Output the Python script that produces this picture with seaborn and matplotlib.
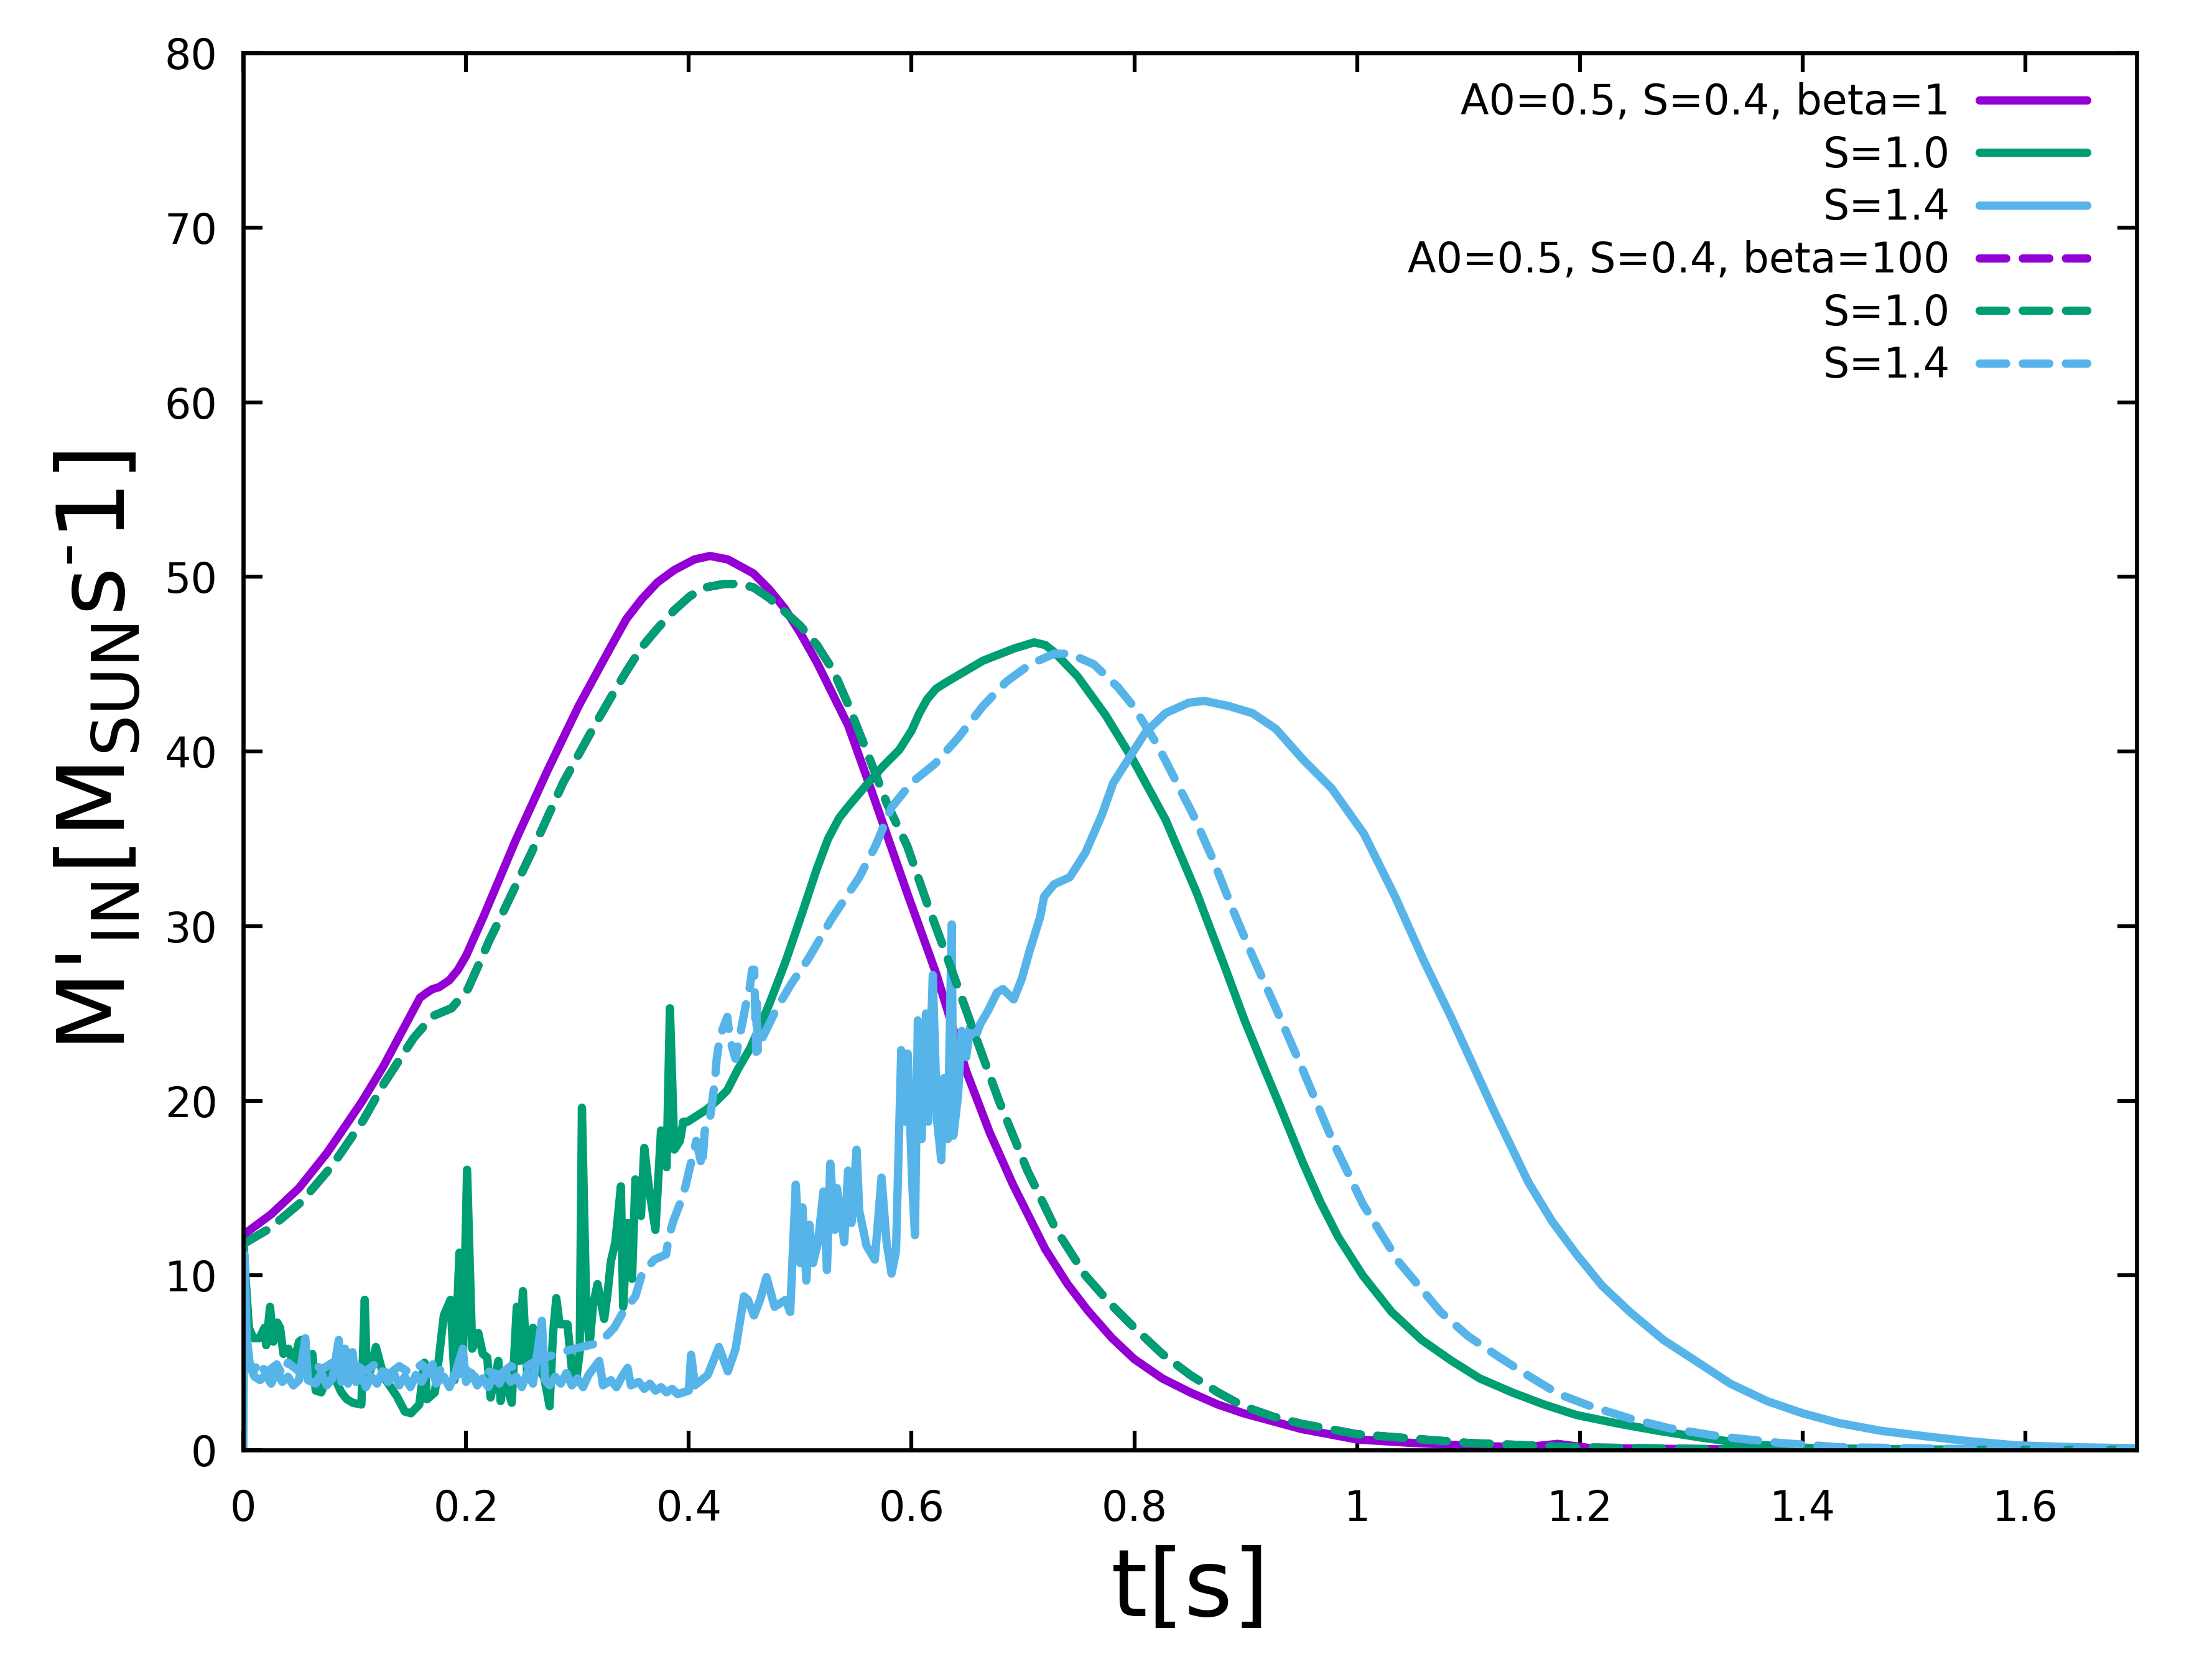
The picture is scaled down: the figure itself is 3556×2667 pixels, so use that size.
import matplotlib
matplotlib.use("Agg")
import matplotlib.pyplot as plt
import seaborn as sns
import pandas as pd
from matplotlib.ticker import FuncFormatter, MultipleLocator

# A0=0.5, S=0.4, beta=1  (purple, solid)
t_s04_b1 = [0, 0.0017, 0.025, 0.05, 0.075, 0.09, 0.107, 0.126, 0.141, 0.1586, 0.165, 0.17,
            0.1756, 0.185, 0.1927, 0.2, 0.216, 0.2444, 0.273, 0.301, 0.33, 0.344, 0.358,
            0.372, 0.387, 0.405, 0.419, 0.435, 0.458, 0.472, 0.486, 0.5, 0.515, 0.529,
            0.543, 0.561, 0.578, 0.596, 0.622, 0.649, 0.67, 0.691, 0.72, 0.74, 0.758, 0.78,
            0.8, 0.825, 0.85, 0.875, 0.898, 0.95, 1.0, 1.05, 1.1, 1.15, 1.18, 1.21, 1.3,
            1.4, 1.7]
m_s04_b1 = [12.5, 12.4, 13.5, 15.0, 17.0, 18.4, 20.0, 22.0, 23.8, 25.9, 26.2, 26.4,
            26.5, 26.9, 27.5, 28.3, 30.6, 34.9, 38.9, 42.6, 46.0, 47.6, 48.75,
            49.7, 50.4, 51.0, 51.2, 51.0, 50.2, 49.3, 48.2, 46.8, 45.1, 43.3,
            41.5, 38.3, 35.2, 31.9, 27.3, 21.7, 18.2, 15.2, 11.5, 9.5, 8.0, 6.4,
            5.2, 4.1, 3.3, 2.6, 2.1, 1.2, 0.6, 0.4, 0.25, 0.15, 0.35, 0.1, 0.05,
            0.0, 0.0]

# S=1.0, beta=1  (green, solid)
t_s10_b1 = [0, 0.002, 0.005, 0.009, 0.0145, 0.019, 0.0205, 0.024, 0.027, 0.0305, 0.033,
            0.036, 0.0405, 0.045, 0.050, 0.052, 0.0555, 0.062, 0.065, 0.070, 0.078, 0.083,
            0.088, 0.093, 0.0985, 0.106, 0.109, 0.111, 0.115, 0.119, 0.124, 0.128, 0.1376,
            0.145, 0.1505, 0.158, 0.1627, 0.165, 0.172, 0.180, 0.186, 0.1896, 0.194, 0.197,
            0.2009, 0.2055, 0.211, 0.215, 0.219, 0.222, 0.229, 0.231, 0.234, 0.241, 0.2455,
            0.248, 0.251, 0.2549, 0.260, 0.265, 0.270, 0.275, 0.278, 0.281, 0.284, 0.291,
            0.295, 0.299, 0.302, 0.304, 0.308, 0.311, 0.314, 0.318, 0.324, 0.327, 0.330,
            0.334, 0.339, 0.341, 0.345, 0.349, 0.352, 0.357, 0.360, 0.364, 0.370, 0.375,
            0.380, 0.383, 0.387, 0.392, 0.395, 0.399, 0.416, 0.425, 0.4345, 0.444, 0.455,
            0.462, 0.472, 0.487, 0.502, 0.515, 0.525, 0.535, 0.545, 0.561, 0.575, 0.589,
            0.600, 0.607, 0.614, 0.622, 0.632, 0.648, 0.664, 0.692, 0.710, 0.720, 0.728,
            0.749, 0.774, 0.799, 0.828, 0.856, 0.881, 0.899, 0.915, 0.930, 0.951, 0.967,
            0.983, 1.005, 1.031, 1.058, 1.085, 1.11, 1.139, 1.168, 1.197, 1.235, 1.272,
            1.31, 1.352, 1.41, 1.5, 1.7]
m_s10_b1 = [12.0, 9.9, 7.0, 6.4, 6.4, 7.0, 6.0, 8.2, 6.2, 7.3, 7.0,
            5.5, 5.8, 4.9, 6.2, 6.3, 4.7, 5.5, 3.4, 3.3, 4.7, 4.0,
            3.3, 2.9, 2.7, 2.6, 8.6, 4.1, 4.7, 5.9, 4.7, 4.0, 3.1,
            2.2, 2.1, 2.6, 5.0, 2.9, 3.3, 7.7, 8.6, 4.0, 11.3, 4.7,
            16.05, 5.8, 6.7, 5.5, 5.3, 3.0, 5.1, 2.8, 4.2, 2.7, 8.2,
            5.1, 9.1, 4.25, 7.0, 4.6, 4.2, 2.5, 6.6, 8.7, 7.2, 7.2,
            4.6, 4.1, 5.6, 19.6, 7.9, 6.1, 8.3, 9.5, 7.5, 8.95, 10.8,
            11.9, 15.1, 8.2, 13.0, 9.8, 15.5, 13.4, 17.3, 15.1, 12.6, 18.3,
            16.2, 25.3, 17.2, 17.7, 18.8, 18.8, 19.5, 20.0, 20.6, 21.8, 23.0,
            24.0, 25.5, 28.0, 30.8, 33.3, 35.0, 36.2, 37.0, 38.2, 39.2, 40.1,
            41.2, 42.2, 43.0, 43.6, 44.0, 44.6, 45.2, 45.9, 46.25, 46.1, 45.7,
            44.3, 42.1, 39.5, 36.1, 31.9, 27.7, 24.6, 22.1, 19.8, 16.5, 14.2,
            12.2, 10.0, 7.9, 6.3, 5.1, 4.1, 3.3, 2.6, 2.0, 1.5, 1.08,
            0.7, 0.33, 0.1, 0.03, 0.0]

# S=1.4, beta=1  (light blue, solid)
t_s14_b1 = [0, 0.001, 0.003, 0.006, 0.01, 0.015, 0.02, 0.025, 0.03, 0.035, 0.04, 0.045,
            0.05, 0.0557, 0.058, 0.065, 0.07, 0.075, 0.08, 0.0857, 0.088, 0.0913, 0.094,
            0.098, 0.101, 0.106, 0.11, 0.115, 0.12, 0.125, 0.13, 0.135, 0.14, 0.145, 0.15,
            0.155, 0.16, 0.165, 0.17, 0.173, 0.18, 0.185, 0.19, 0.197, 0.2, 0.205, 0.21,
            0.215, 0.22, 0.225, 0.23, 0.235, 0.24, 0.245, 0.25, 0.255, 0.26, 0.268, 0.271,
            0.275, 0.28, 0.285, 0.29, 0.295, 0.3, 0.305, 0.31, 0.3195, 0.323, 0.33, 0.335,
            0.34, 0.345, 0.348, 0.355, 0.36, 0.365, 0.37, 0.375, 0.38, 0.385, 0.39, 0.395,
            0.40, 0.402, 0.4055, 0.417, 0.427, 0.435, 0.442, 0.4495, 0.453, 0.4585, 0.464,
            0.4697, 0.477, 0.487, 0.491, 0.496, 0.500, 0.502, 0.5055, 0.5083, 0.5115, 0.516,
            0.5208, 0.524, 0.527, 0.531, 0.533, 0.5395, 0.543, 0.546, 0.5506, 0.553, 0.5595,
            0.567, 0.573, 0.5775, 0.582, 0.586, 0.5907, 0.5945, 0.5965, 0.6006, 0.603,
            0.6056, 0.609, 0.613, 0.615, 0.619, 0.623, 0.6266, 0.629, 0.6325, 0.636, 0.6375,
            0.6417, 0.645, 0.649, 0.6525, 0.657, 0.6617, 0.669, 0.6767, 0.682, 0.6916, 0.699,
            0.706, 0.7153, 0.719, 0.728, 0.742, 0.756, 0.771, 0.781, 0.792, 0.81, 0.828,
            0.849, 0.863, 0.885, 0.906, 0.927, 0.952, 0.977, 1.006, 1.034, 1.06, 1.085,
            1.123, 1.154, 1.175, 1.197, 1.22, 1.245, 1.275, 1.304, 1.335, 1.368, 1.4, 1.432,
            1.47, 1.512, 1.55, 1.593, 1.65, 1.7]
m_s14_b1 = [0.0, 11.2, 6.5, 4.8, 4.2, 4.0, 4.3, 3.8, 4.5, 3.9, 4.2, 3.7,
            4.0, 6.4, 4.0, 3.8, 4.4, 3.7, 4.1, 6.3, 3.9, 5.8, 3.8,
            5.6, 3.9, 4.3, 3.6, 4.2, 3.8, 4.5, 3.9, 4.4, 3.7, 4.2, 3.6,
            4.3, 3.9, 4.5, 4.9, 3.8, 4.2, 3.6, 4.3, 5.8, 3.9, 4.4, 3.7,
            4.1, 3.6, 4.3, 3.8, 4.5, 3.9, 4.2, 3.6, 4.4, 3.8, 7.4, 4.0,
            3.7, 4.2, 3.8, 4.4, 3.7, 4.1, 3.6, 4.3, 5.1, 3.7, 4.0, 3.6,
            4.2, 4.7, 3.7, 3.9, 3.5, 3.8, 3.4, 3.6, 3.3, 3.5, 3.2, 3.3,
            3.4, 5.45, 3.7, 4.3, 5.9, 4.5, 5.8, 8.8, 8.6, 7.7, 8.6,
            9.9, 8.2, 8.6, 7.9, 15.2, 10.7, 13.9, 9.7, 12.9, 10.7, 11.9,
            14.8, 10.3, 16.4, 12.6, 15.0, 11.9, 16.0, 13.0, 17.2, 13.7, 11.7,
            10.9, 15.6, 11.9, 10.1, 11.4, 22.9, 18.8, 22.7, 15.2, 12.3,
            24.6, 17.8, 25.0, 18.8, 27.2, 18.8, 16.6, 21.3, 17.8, 30.1, 18.0,
            20.3, 24.0, 22.5, 24.2, 23.6, 24.4, 25.2, 26.2, 26.4, 25.8, 27.0,
            28.6, 30.5, 31.7, 32.4, 32.8, 34.2, 36.4, 38.2, 39.3, 41.1, 42.2,
            42.8, 42.9, 42.6, 42.2, 41.3, 39.5, 37.9, 35.3, 31.7, 28.0, 24.7,
            19.4, 15.3, 13.1, 11.2, 9.4, 7.9, 6.3, 5.1, 3.8, 2.8, 2.1, 1.55,
            1.1, 0.77, 0.5, 0.26, 0.15, 0.1]

# S=1.0, beta=100  (green, dashed)
t_s10_b100 = [0, 0.024, 0.052, 0.080, 0.1078, 0.1264, 0.153, 0.170, 0.187, 0.2016, 0.21,
              0.221, 0.2302, 0.2586, 0.287, 0.3155, 0.33, 0.344, 0.358, 0.3725, 0.387,
              0.401, 0.415, 0.432, 0.445, 0.458, 0.472, 0.4864, 0.5, 0.515, 0.53, 0.543,
              0.561, 0.578, 0.596, 0.614, 0.632, 0.659, 0.679, 0.704, 0.729, 0.756, 0.778,
              0.8, 0.825, 0.85, 0.875, 0.898, 0.925, 0.95, 1.0, 1.1, 1.2, 1.3, 1.4, 1.7]
m_s10_b100 = [11.8, 12.7, 14.2, 16.3, 18.9, 21.0, 23.6, 24.85, 25.3, 26.4, 27.6,
              29.2, 30.4, 34.2, 38.2, 41.5, 43.1, 44.6, 46.0, 47.1, 48.1,
              48.9, 49.4, 49.6, 49.6, 49.4, 48.8, 48.0, 47.2, 46.1, 44.6, 42.7,
              39.8, 37.0, 34.6, 31.3, 28.2, 23.4, 19.9, 16.0, 12.7, 10.0, 8.4,
              7.0, 5.5, 4.3, 3.3, 2.5, 1.9, 1.5, 0.9, 0.4, 0.15, 0.06, 0.02, 0.0]

# A0=0.5, S=0.4, beta=100  (purple, dashed) - lies underneath the green dashed curve
t_s04_b100 = t_s10_b100
m_s04_b100 = m_s10_b100

# S=1.4, beta=100  (light blue, dashed)
t_s14_b100 = [0, 0.005, 0.01, 0.015, 0.02, 0.03, 0.035, 0.04, 0.05, 0.06, 0.07, 0.08,
              0.09, 0.1, 0.11, 0.12, 0.13, 0.14, 0.15, 0.16, 0.17, 0.18, 0.19, 0.2, 0.21,
              0.22, 0.23, 0.24, 0.25, 0.26, 0.267, 0.2855, 0.304, 0.317, 0.324, 0.333, 0.341,
              0.352, 0.358, 0.369, 0.3796, 0.382, 0.386, 0.392, 0.397, 0.401, 0.4047, 0.4066,
              0.412, 0.4143, 0.418, 0.4233, 0.425, 0.428, 0.4345, 0.437, 0.4419, 0.446,
              0.4512, 0.455, 0.4568, 0.4587, 0.4605, 0.461, 0.462, 0.466, 0.479, 0.492,
              0.507, 0.528, 0.553, 0.5676, 0.582, 0.5997, 0.621, 0.642, 0.664, 0.685,
              0.7065, 0.728, 0.742, 0.7635, 0.785, 0.799, 0.8205, 0.835, 0.8526, 0.870,
              0.888, 0.906, 0.925, 0.951, 0.978, 1.005, 1.037, 1.075, 1.1, 1.128, 1.155,
              1.181, 1.21, 1.245, 1.28, 1.326, 1.38, 1.432, 1.55, 1.7]
m_s14_b100 = [5.8, 5.0, 4.6, 5.1, 4.4, 4.9, 4.3, 5.0, 4.5, 5.2, 4.6, 5.0,
              4.4, 4.9, 4.5, 5.0, 4.3, 4.8, 4.4, 4.9, 4.3, 4.7, 4.2, 4.6, 4.1,
              4.5, 4.3, 4.8, 4.6, 5.0, 5.2, 5.6, 5.9, 6.1, 6.4, 7.0, 7.9,
              8.8, 10.1, 10.9, 11.2, 12.2, 13.1, 14.1, 15.1, 16.2, 17.1, 17.7,
              16.2, 18.3, 18.5, 21.1, 22.4, 23.7, 24.8, 23.5, 22.4, 23.8,
              25.5, 26.6, 27.5, 27.5, 22.8, 25.6, 22.8, 23.6, 25.3, 26.7,
              28.1, 30.4, 32.8, 34.6, 36.8, 38.2, 39.3, 40.8, 42.6, 44.0,
              45.0, 45.6, 45.6, 45.0, 43.7, 42.6, 40.4, 38.6, 36.4, 33.9,
              31.0, 28.3, 25.6, 21.8, 17.7, 14.1, 10.8, 7.9, 6.5, 5.3, 4.2,
              3.2, 2.5, 1.8, 1.25, 0.77, 0.4, 0.16, 0.05, 0.02]

series = [
    (t_s04_b1, m_s04_b1, "#9400d3", "A0=0.5, S=0.4, beta=1", False),
    (t_s10_b1, m_s10_b1, "#009e73", "S=1.0", False),
    (t_s14_b1, m_s14_b1, "#56b4e9", "S=1.4", False),
    (t_s04_b100, m_s04_b100, "#9400d3", "A0=0.5, S=0.4, beta=100", True),
    (t_s10_b100, m_s10_b100, "#009e73", "S=1.0", True),
    (t_s14_b100, m_s14_b100, "#56b4e9", "S=1.4", True),
]

sns.set_style("white")
plt.rcParams["font.family"] = ["DejaVu Sans"]
plt.rcParams["mathtext.default"] = "regular"
for key in ["text.color", "axes.labelcolor", "xtick.color", "ytick.color"]:
    plt.rcParams[key] = "black"

LW = 3.2
FS = 16

fig = plt.figure(figsize=(3556 / 300, 2667 / 300), dpi=300)
ax = fig.add_axes([0.110, 0.126, 0.856, 0.842])

for t, m, color, label, dashed in series:
    df = pd.DataFrame({"t": t, "m": m})
    if dashed:
        style = dict(linestyle=(0, (3.2, 2.0)), dash_capstyle="round", dash_joinstyle="round")
    else:
        style = dict(solid_capstyle="round", solid_joinstyle="round")
    sns.lineplot(data=df, x="t", y="m", ax=ax, color=color, linewidth=LW, label=label,
                 estimator=None, sort=False, **style)

ax.set_xlim(0, 1.7)
ax.set_ylim(0, 80)
ax.xaxis.set_major_locator(MultipleLocator(0.2))
ax.yaxis.set_major_locator(MultipleLocator(10))
ax.xaxis.set_major_formatter(FuncFormatter(lambda v, p: f"{v:g}"))

ax.tick_params(direction="in", length=7.5, width=1.5, labelsize=FS,
               top=True, right=True, bottom=True, left=True)
ax.tick_params(axis="x", pad=15)
ax.tick_params(axis="y", pad=10)
for sp in ax.spines.values():
    sp.set_linewidth(1.6)
    sp.set_color("black")

ax.set_xlabel("t[s]", fontsize=36, labelpad=6)
ax.set_ylabel(r"M'$_{IN}$[M$_{SUN}$s$^{\text{-}}$1]", fontsize=36, labelpad=8)

ax.legend(loc="upper right", bbox_to_anchor=(0.989, 1.0), markerfirst=False,
          frameon=False, fontsize=FS, handlelength=2.6, handletextpad=0.7,
          labelspacing=0.28, borderaxespad=0.3)

fig.savefig("out.png", dpi=300)
